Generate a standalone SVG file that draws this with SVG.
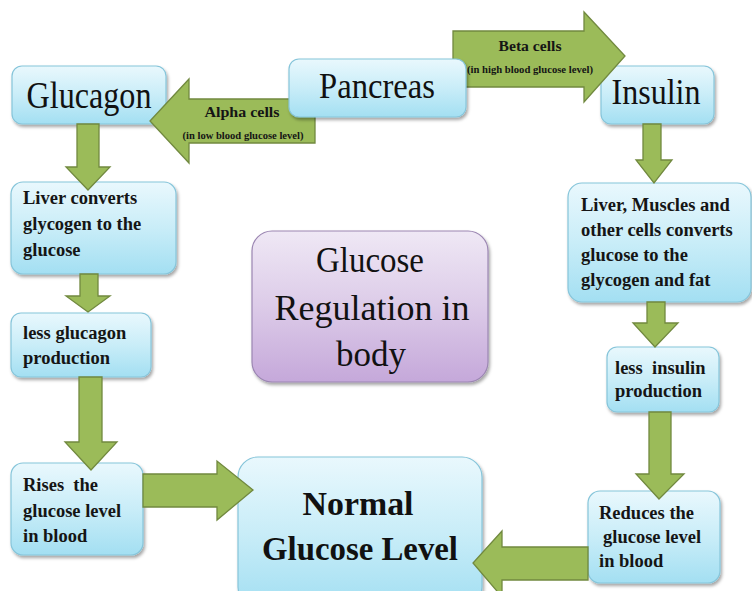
<svg xmlns="http://www.w3.org/2000/svg" width="752" height="591" viewBox="0 0 752 591">
<defs>
  <linearGradient id="blue" x1="0" y1="0" x2="0" y2="1">
    <stop offset="0" stop-color="#E9F8FD"/>
    <stop offset="0.5" stop-color="#C9EDF8"/>
    <stop offset="1" stop-color="#A3DFF2"/>
  </linearGradient>
  <linearGradient id="purple" x1="0" y1="0" x2="0" y2="1">
    <stop offset="0" stop-color="#EFE8F5"/>
    <stop offset="0.5" stop-color="#DCCBE8"/>
    <stop offset="1" stop-color="#C5A8DA"/>
  </linearGradient>
  <filter id="sh" x="-10%" y="-10%" width="125%" height="130%">
    <feDropShadow dx="1.5" dy="2.5" stdDeviation="1.8" flood-color="#000" flood-opacity="0.35"/>
  </filter>
</defs>
<style>
  .box { fill: url(#blue); stroke: #86C5DA; stroke-width: 1.2; filter: url(#sh); }
  .pbox { fill: url(#purple); stroke: #9B86B2; stroke-width: 1.2; filter: url(#sh); }
  .arr { fill: #9BBB59; stroke: #71893F; stroke-width: 1.3; stroke-linejoin: miter; }
  .big { font-family: "Liberation Serif", "Times New Roman", serif; font-size: 35px; fill: #111; }
  .bt { font-family: "Liberation Serif", "Times New Roman", serif; font-weight: bold; font-size: 18.5px; fill: #151515; }
  .lbl { font-family: "Liberation Serif", "Times New Roman", serif; font-weight: bold; font-size: 15.5px; fill: #151515; }
  .sm { font-family: "Liberation Serif", "Times New Roman", serif; font-weight: bold; font-size: 10px; fill: #151515; }
  .nb { font-family: "Liberation Serif", "Times New Roman", serif; font-weight: bold; font-size: 34px; fill: #111; }
</style>
<rect width="752" height="591" fill="#ffffff"/>

<g id="glucagon">
  <rect class="box" x="12" y="66" width="154" height="58" rx="10"/>
  <text class="big" x="89" y="108" text-anchor="middle" textLength="125" lengthAdjust="spacingAndGlyphs" style="font-size:37px">Glucagon</text>
</g>
<g id="insulin">
  <rect class="box" x="601" y="66" width="113" height="58" rx="10"/>
  <text class="big" x="656" y="104" text-anchor="middle" textLength="89" lengthAdjust="spacingAndGlyphs">Insulin</text>
</g>
<g id="liver-converts">
  <rect class="box" x="11" y="182" width="165" height="92" rx="12"/>
  <text class="bt" x="23" y="204">Liver converts</text>
  <text class="bt" x="23" y="230">glycogen to the</text>
  <text class="bt" x="23" y="256">glucose</text>
</g>
<g id="less-glucagon">
  <rect class="box" x="11" y="313" width="140" height="64" rx="10"/>
  <text class="bt" x="23" y="339">less glucagon</text>
  <text class="bt" x="23" y="364">production</text>
</g>
<g id="rises">
  <rect class="box" x="11" y="463" width="132" height="92" rx="12"/>
  <text class="bt" x="23" y="491" xml:space="preserve">Rises  the</text>
  <text class="bt" x="23" y="517">glucose level</text>
  <text class="bt" x="23" y="542">in blood</text>
</g>
<g id="regulation">
  <rect class="pbox" x="252" y="231" width="236" height="151" rx="20"/>
  <text class="big" x="370" y="272" text-anchor="middle" textLength="108" lengthAdjust="spacingAndGlyphs">Glucose</text>
  <text class="big" x="372" y="320" text-anchor="middle" textLength="195" lengthAdjust="spacingAndGlyphs">Regulation in</text>
  <text class="big" x="371" y="366" text-anchor="middle">body</text>
</g>
<g id="normal">
  <rect class="box" x="238" y="457" width="244" height="150" rx="20"/>
  <text class="nb" x="358" y="515" text-anchor="middle" textLength="111" lengthAdjust="spacingAndGlyphs">Normal</text>
  <text class="nb" x="360" y="560" text-anchor="middle" textLength="196" lengthAdjust="spacingAndGlyphs">Glucose Level</text>
</g>
<g id="liver-muscles">
  <rect class="box" x="568" y="183" width="183" height="119" rx="14"/>
  <text class="bt" x="581" y="211">Liver, Muscles and</text>
  <text class="bt" x="581" y="236">other cells converts</text>
  <text class="bt" x="581" y="261">glucose to the</text>
  <text class="bt" x="581" y="286">glycogen and fat</text>
</g>
<g id="less-insulin">
  <rect class="box" x="607" y="347" width="112" height="65" rx="10"/>
  <text class="bt" x="615" y="374" xml:space="preserve">less  insulin</text>
  <text class="bt" x="615" y="397">production</text>
</g>
<g id="reduces">
  <rect class="box" x="588" y="491" width="132" height="92" rx="12"/>
  <text class="bt" x="599" y="519">Reduces the</text>
  <text class="bt" x="603" y="543">glucose level</text>
  <text class="bt" x="599" y="567">in blood</text>
</g>

<g id="connectors">
  <polygon class="arr" points="150,121 189,79 189,99 315,99 315,143 189,143 189,163"/>
  <text class="lbl" x="242" y="117" text-anchor="middle" textLength="75" lengthAdjust="spacingAndGlyphs">Alpha cells</text>
  <text class="sm" x="243" y="139" text-anchor="middle" textLength="121" lengthAdjust="spacingAndGlyphs">(in low blood glucose level)</text>
  <polygon class="arr" points="453,31 584,31 584,12 625,56 584,102 584,87 453,87"/>
  <text class="lbl" x="530" y="51" text-anchor="middle" textLength="63" lengthAdjust="spacingAndGlyphs">Beta cells</text>
  <text class="sm" x="530" y="73" text-anchor="middle" textLength="126" lengthAdjust="spacingAndGlyphs">(in high blood glucose level)</text>
  <polygon class="arr" points="77,124 99,124 99,167 110,167 88,190 66,167 77,167"/>
  <polygon class="arr" points="80,274 98,274 98,296 110,296 88,312 66,296 80,296"/>
  <polygon class="arr" points="79,377 102,377 102,442 117,442 91,470 65,442 79,442"/>
  <polygon class="arr" points="143,474 217,474 217,461 253,490 217,520 217,507 143,507"/>
  <polygon class="arr" points="643,124 661,124 661,160 672,160 654,183 636,160 643,160"/>
  <polygon class="arr" points="647,302 665,302 665,323 678,323 655,347 633,323 647,323"/>
  <polygon class="arr" points="649,412 671,412 671,474 684,474 659,499 636,474 649,474"/>
  <polygon class="arr" points="588,547 502,547 502,531 473,563 502,597 502,580 588,580"/>
</g>

<g id="pancreas">
  <rect class="box" x="289" y="59" width="177" height="58" rx="10"/>
  <text class="big" x="377" y="98" text-anchor="middle" textLength="116" lengthAdjust="spacingAndGlyphs">Pancreas</text>
</g>
</svg>
